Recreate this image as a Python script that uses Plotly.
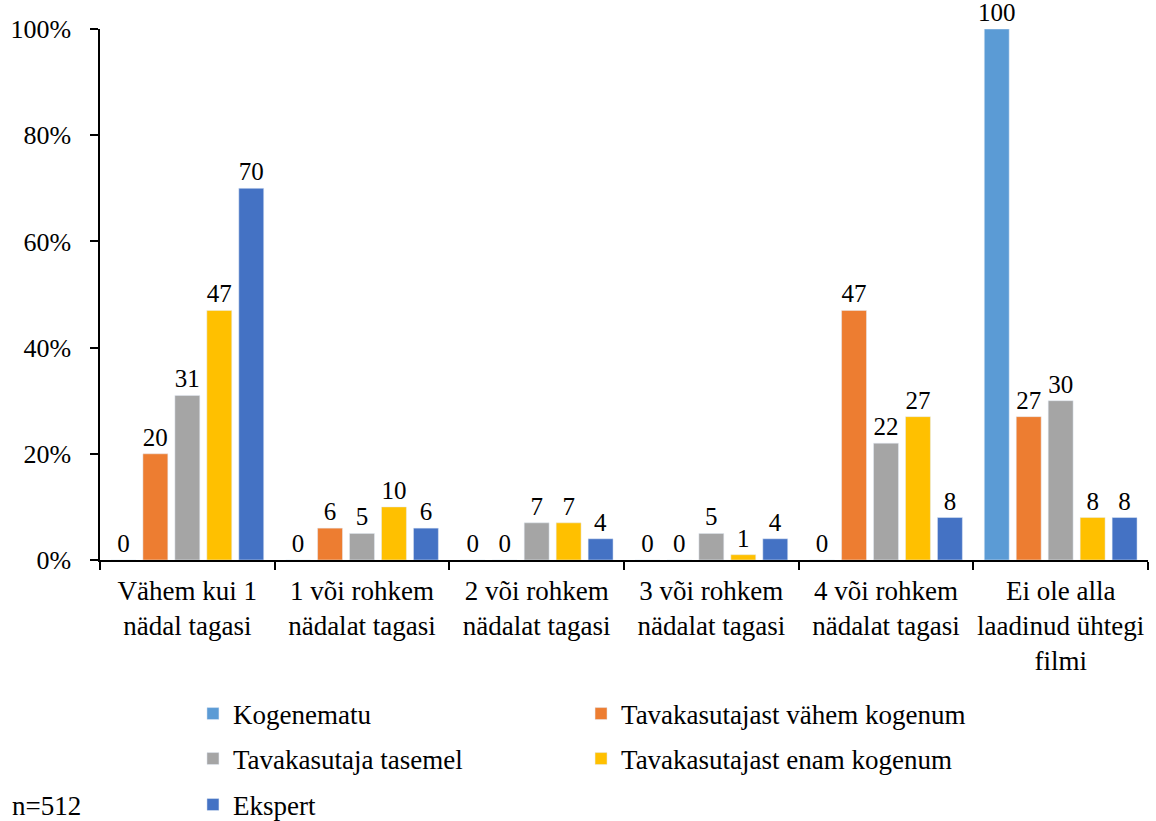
import plotly.graph_objects as go

categories = ["Vähem kui 1<br>nädal tagasi", "1 või rohkem<br>nädalat tagasi", "2 või rohkem<br>nädalat tagasi",
              "3 või rohkem<br>nädalat tagasi", "4 või rohkem<br>nädalat tagasi", "Ei ole alla<br>laadinud ühtegi<br>filmi"]
series_names = ["Kogenematu", "Tavakasutajast vähem kogenum", "Tavakasutaja tasemel",
                "Tavakasutajast enam kogenum", "Ekspert"]
kogenematu = [0, 0, 0, 0, 0, 100]
vahem = [20, 6, 0, 0, 47, 27]
tasemel = [31, 5, 7, 5, 22, 30]
enam = [47, 10, 7, 1, 27, 8]
ekspert = [70, 6, 4, 4, 8, 8]
colors = ["#5B9BD5", "#ED7D31", "#A5A5A5", "#FFC000", "#4472C4"]
y_ticks = [0, 20, 40, 60, 80, 100]
y_ticktext = ["0%", "20%", "40%", "60%", "80%", "100%"]

FONT = "Liberation Serif, DejaVu Serif, serif"
FS = 27
W, H = 1156, 821
L, R, T, B = 100, 8, 29, 261
PW, PH = W - L - R, H - T - B

fig = go.Figure()
legend_pos = [(0.0887, 0.1303), (0.459, 0.1303), (0.0887, 0.0755), (0.459, 0.0755), (0.0887, 0.0195)]
for i, (name, vals) in enumerate(zip(series_names, [kogenematu, vahem, tasemel, enam, ekspert])):
    lg = "legend" if i == 0 else f"legend{i+1}"
    fig.add_trace(go.Bar(
        x=categories, y=vals, name=name, marker_color=colors[i],
        text=[str(v) for v in vals], textposition="outside", constraintext="none",
        textfont=dict(family=FONT, size=25, color="black"),
        cliponaxis=False, legend=lg,
    ))

layout_legends = {}
for i, (lx, ly) in enumerate(legend_pos):
    key = "legend" if i == 0 else f"legend{i+1}"
    layout_legends[key] = dict(x=lx, y=ly, xref="paper", yref="container", xanchor="left", yanchor="middle",
                               font=dict(family=FONT, size=FS, color="black"), bgcolor="rgba(0,0,0,0)",
                               itemwidth=30, tracegroupgap=0)

fig.update_layout(
    width=W, height=H,
    margin=dict(l=L, r=R, t=T, b=B, autoexpand=False),
    paper_bgcolor="white", plot_bgcolor="white",
    barmode="group", bargap=0.085, bargroupgap=0.22,
    font=dict(family=FONT, size=FS, color="black"),
    showlegend=True,
    **layout_legends,
)
fig.update_yaxes(range=[0, 100], tickvals=y_ticks, ticktext=y_ticktext, showgrid=False, automargin=False,
                 showline=True, linecolor="black", linewidth=1.5, ticks="outside", ticklen=8,
                 tickcolor="black", tickwidth=1.5, tickfont=dict(family=FONT, size=26), zeroline=False,
                 ticklabelstandoff=14)
fig.update_xaxes(showline=True, linecolor="black", linewidth=1.5, ticks="outside", tickson="boundaries",
                 automargin=False, ticklabelstandoff=6, tickangle=0,
                 ticklen=8, tickcolor="black", tickwidth=1.5, tickfont=dict(family=FONT, size=FS))
fig.add_annotation(text="n=512", x=(10 - L) / PW, y=(H - B - 806) / PH, xref="paper", yref="paper",
                   showarrow=False, xanchor="left", yanchor="middle",
                   font=dict(family=FONT, size=FS, color="black"))
fig.write_html("out.html", config={"displayModeBar": False},
               post_script="document.body.style.margin='0';document.body.style.overflow='hidden';")
